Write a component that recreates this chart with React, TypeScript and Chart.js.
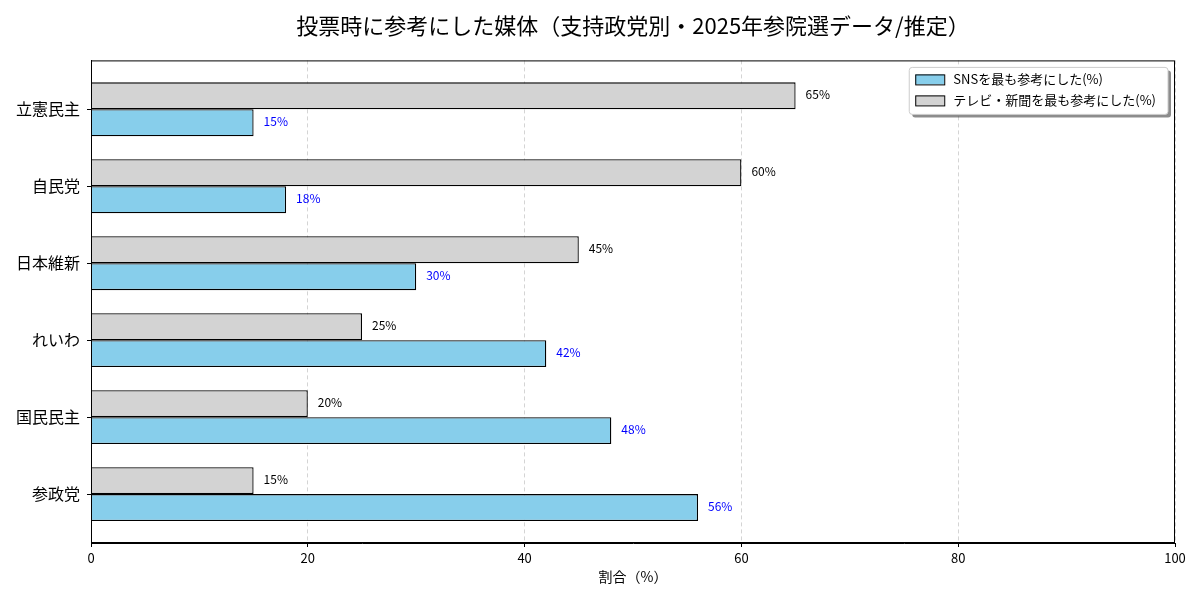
import { useEffect, useRef } from "react";
import { Chart, registerables } from "chart.js";

Chart.register(...registerables);

const FONT = "'Noto Sans CJK JP', 'Noto Sans', sans-serif";

const parties = ["立憲民主", "自民党", "日本維新", "れいわ", "国民民主", "参政党"];
const snsValues = [15, 18, 30, 42, 48, 56];
const tvValues = [65, 60, 45, 25, 20, 15];
const xTicks = [0, 20, 40, 60, 80, 100];

const snsLabel = "SNSを最も参考にした(%)";
const tvLabel = "テレビ・新聞を最も参考にした(%)";
const titleText = "投票時に参考にした媒体（支持政党別・2025年参院選データ/推定）";

// value labels at the end of each bar
const valueLabels = {
  id: "valueLabels",
  afterDatasetsDraw(chart: any) {
    const ctx = chart.ctx;
    ctx.save();
    ctx.font = `12px ${FONT}`;
    ctx.textAlign = "left";
    ctx.textBaseline = "middle";
    chart.data.datasets.forEach((ds: any, di: number) => {
      const meta = chart.getDatasetMeta(di);
      ctx.fillStyle = ds.valueColor;
      meta.data.forEach((el: any, i: number) => {
        ctx.fillText(`${ds.data[i].x}%`, el.x + 10, el.y - 1);
      });
    });
    ctx.restore();
  },
};

// full box around the plot area plus legend inside it
const frameAndLegend = {
  id: "frameAndLegend",
  afterDraw(chart: any) {
    const { ctx, chartArea } = chart;
    ctx.save();
    ctx.strokeStyle = "#000";
    ctx.lineWidth = 1;
    ctx.strokeRect(chartArea.left + 0.5, chartArea.top + 0.5, chartArea.right - chartArea.left - 1, chartArea.bottom - chartArea.top - 1);

    // legend: SNS first, then TV
    const items = [...chart.data.datasets].reverse();
    ctx.font = `13px ${FONT}`;
    const textW = Math.max(...items.map((d: any) => ctx.measureText(d.label).width));
    const w = 44 + textW + 12;
    const h = 47;
    const x = chartArea.right - 7 - w;
    const y = chartArea.top + 7;

    ctx.fillStyle = "rgba(0,0,0,0.45)";
    ctx.beginPath();
    ctx.roundRect(x + 3, y + 3, w, h, 3);
    ctx.fill();
    ctx.fillStyle = "#fff";
    ctx.strokeStyle = "#ccc";
    ctx.beginPath();
    ctx.roundRect(x, y, w, h, 3);
    ctx.fill();
    ctx.stroke();

    items.forEach((d: any, i: number) => {
      const ry = y + 12 + i * 21;
      ctx.fillStyle = d.backgroundColor;
      ctx.fillRect(x + 6, ry - 5, 29, 10);
      ctx.strokeStyle = "#000";
      ctx.strokeRect(x + 6.5, ry - 4.5, 29, 10);
      ctx.fillStyle = "#000";
      ctx.textAlign = "left";
      ctx.textBaseline = "middle";
      ctx.fillText(d.label, x + 44, ry);
    });
    ctx.restore();
  },
};

export default function App() {
  const chartRef = useRef<HTMLCanvasElement>(null);
  const chartInstance = useRef<Chart | null>(null);

  useEffect(() => {
    document.body.style.margin = "0";
    if (!chartRef.current) return;
    if (chartInstance.current) chartInstance.current.destroy();
    const ctx = chartRef.current.getContext("2d");
    if (!ctx) return;

    Chart.defaults.font.family = FONT;
    Chart.defaults.color = "#000";

    chartInstance.current = new Chart(ctx, {
      type: "bar",
      data: {
        datasets: [
          {
            label: tvLabel,
            data: tvValues.map((v, i) => ({ x: v, y: i })),
            backgroundColor: "#d3d3d3",
            borderColor: "#000",
            borderWidth: 1.3,
            valueColor: "#000",
          } as any,
          {
            label: snsLabel,
            data: snsValues.map((v, i) => ({ x: v, y: i })),
            backgroundColor: "#87ceeb",
            borderColor: "#000",
            borderWidth: 1.3,
            valueColor: "#0000ff",
          } as any,
        ],
      },
      options: {
        indexAxis: "y",
        animation: false,
        responsive: true,
        maintainAspectRatio: false,
        categoryPercentage: 0.7,
        barPercentage: 1.0,
        layout: { padding: { left: 0, right: 25, top: 0, bottom: 0 } },
        plugins: {
          legend: { display: false },
          tooltip: { enabled: false },
          title: {
            display: true,
            fullSize: false,
            text: titleText,
            color: "#000",
            font: { size: 22, weight: "normal", family: FONT },
            padding: { top: 12, bottom: 22 },
          },
        },
        scales: {
          x: {
            type: "linear",
            min: 0,
            max: 100,
            afterBuildTicks: (scale: any) => {
              scale.ticks = xTicks.map((v) => ({ value: v }));
            },
            afterFit: (scale: any) => {
              scale.height = 57;
            },
            grid: {
              color: "rgba(0,0,0,0.17)",
              tickColor: "#000",
              tickBorderDash: [],
              tickLength: 4,
            } as any,
            border: { display: true, color: "#000", width: 1, dash: [4, 3] },
            ticks: { color: "#000", font: { size: 13 }, padding: 3 },
            title: {
              display: true,
              text: "割合（%）",
              color: "#000",
              font: { size: 14 },
              padding: { top: 2, bottom: 15 },
            },
          },
          y: {
            type: "linear",
            min: -0.635,
            max: 5.635,
            reverse: true,
            offset: false,
            afterBuildTicks: (scale: any) => {
              scale.ticks = parties.map((_, i) => ({ value: i }));
            },
            afterFit: (scale: any) => {
              scale.width = 91;
            },
            grid: {
              offset: false,
              drawOnChartArea: false,
              color: "#000",
              tickLength: 4,
            },
            border: { display: true, color: "#000", width: 1 },
            ticks: {
              color: "#000",
              font: { size: 16 },
              padding: 7,
              callback: (v: any) => parties[v] ?? "",
            },
          },
        },
      },
      plugins: [valueLabels, frameAndLegend],
    });

    return () => {
      if (chartInstance.current) {
        chartInstance.current.destroy();
        chartInstance.current = null;
      }
    };
  }, []);

  return (
    <div style={{ width: 1200, height: 600, position: "relative", background: "#fff" }}>
      <canvas ref={chartRef}></canvas>
    </div>
  );
}
